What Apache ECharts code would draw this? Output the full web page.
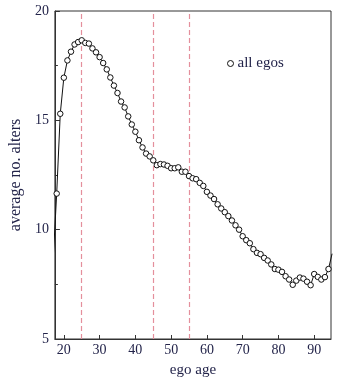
<!DOCTYPE html>
<html>
<head>
<meta charset="utf-8">
<script src="https://cdn.jsdelivr.net/npm/echarts@6/dist/echarts.min.js"></script>
<style>
  html, body { margin: 0; padding: 0; background: #fff; }
  #chart { width: 345px; height: 383px; }
</style>
</head>
<body>
<div id="chart"></div>
<script>
// Ego age (years) and average number of alters per ego
const ages = [17, 18, 19, 20, 21, 22, 23, 24, 25, 26, 27, 28, 29, 30, 31, 32, 33, 34, 35, 36,
  37, 38, 39, 40, 41, 42, 43, 44, 45, 46, 47, 48, 49, 50, 51, 52, 53, 54, 55, 56,
  57, 58, 59, 60, 61, 62, 63, 64, 65, 66, 67, 68, 69, 70, 71, 72, 73, 74, 75, 76,
  77, 78, 79, 80, 81, 82, 83, 84, 85, 86, 87, 88, 89, 90, 91, 92, 93, 94, 95];
const avgAlters = [8.6, 11.65, 15.3, 16.95, 17.74, 18.14, 18.47, 18.58, 18.66, 18.54, 18.51, 18.29, 18.11, 17.89, 17.62, 17.33, 16.96, 16.59, 16.25, 15.86,
  15.59, 15.18, 14.81, 14.48, 14.09, 13.76, 13.48, 13.35, 13.17, 12.95, 13.0, 12.98, 12.92, 12.81, 12.81, 12.85, 12.65, 12.65, 12.45, 12.35,
  12.31, 12.14, 12.0, 11.73, 11.56, 11.4, 11.16, 10.97, 10.8, 10.62, 10.42, 10.2, 10.0, 9.7, 9.52, 9.38, 9.11, 8.94, 8.88, 8.71,
  8.59, 8.41, 8.2, 8.17, 8.07, 7.87, 7.72, 7.48, 7.67, 7.81, 7.76, 7.62, 7.46, 7.97, 7.84, 7.72, 7.83, 8.2, 8.9];
// Reference ages marked with vertical dashed lines
const markerAges = [25, 45, 55];
const xTickValues = [20, 30, 40, 50, 60, 70, 80, 90];
const seriesName = 'all egos';

const textColor = '#23244a';
const serif = '"Liberation Serif", "Times New Roman", serif';

const chart = echarts.init(document.getElementById('chart'), null, { renderer: 'canvas' });
chart.setOption({
  animation: false,
  backgroundColor: '#fff',
  grid: {
    left: 47, right: 14, top: 11, bottom: 36,
    show: true, borderColor: '#333', borderWidth: 1, backgroundColor: 'transparent'
  },
  legend: {
    left: 222, top: 51,
    itemWidth: 6, itemHeight: 6, itemGap: 4,
    textStyle: { fontFamily: serif, fontSize: 15, color: textColor, padding: [0, 0, 0, -1] },
    data: [{
      name: seriesName, icon: 'circle',
      itemStyle: { color: '#fff', borderColor: '#111', borderWidth: 1 }
    }]
  },
  xAxis: {
    type: 'value',
    min: 17.5, max: 94.7,
    name: 'ego age',
    nameLocation: 'middle',
    nameGap: 24,
    nameTextStyle: { fontFamily: serif, fontSize: 15, color: textColor },
    splitLine: { show: false },
    axisLine: { show: true, onZero: false, lineStyle: { color: '#333', width: 1 } },
    axisTick: { show: true, inside: true, length: 4, customValues: xTickValues, lineStyle: { color: '#333' } },
    axisLabel: {
      customValues: xTickValues, margin: 4,
      fontFamily: serif, fontSize: 14, color: textColor
    }
  },
  yAxis: {
    type: 'value',
    min: 5, max: 20, interval: 5,
    name: 'average no. alters',
    nameLocation: 'middle',
    nameGap: 30,
    nameTextStyle: { fontFamily: serif, fontSize: 16, color: textColor },
    splitLine: { show: false },
    axisLine: { show: true, lineStyle: { color: '#333', width: 1 } },
    axisTick: { show: true, inside: true, length: 5, lineStyle: { color: '#333' } },
    minorTick: { show: true, splitNumber: 2, length: 3, lineStyle: { color: '#333' } },
    axisLabel: { margin: 6, fontFamily: serif, fontSize: 14, color: textColor }
  },
  series: [{
    name: seriesName,
    type: 'line',
    data: ages.map((a, i) => [a, avgAlters[i]]),
    clip: true,
    symbol: 'circle',
    symbolSize: 5.5,
    showAllSymbol: true,
    lineStyle: { color: '#111', width: 1 },
    itemStyle: { color: '#fff', borderColor: '#111', borderWidth: 1 },
    z: 3,
    markLine: {
      silent: true,
      symbol: 'none',
      label: { show: false },
      lineStyle: { color: '#e48f9c', type: [5, 3], width: 1.2 },
      z: 1,
      data: markerAges.map(a => ({ xAxis: a }))
    }
  }]
});
</script>
</body>
</html>
